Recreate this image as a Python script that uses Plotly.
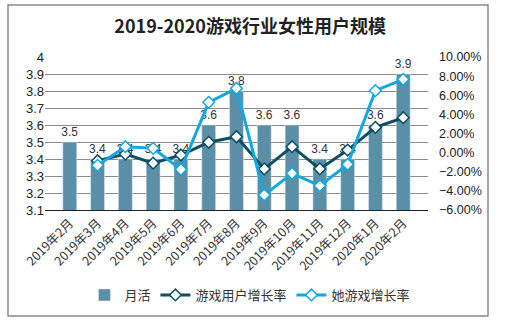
import plotly.graph_objects as go

months = ["2019年2月", "2019年3月", "2019年4月", "2019年5月", "2019年6月", "2019年7月",
          "2019年8月", "2019年9月", "2019年10月", "2019年11月", "2019年12月", "2020年1月", "2020年2月"]
mau = [3.5, 3.4, 3.4, 3.4, 3.4, 3.6, 3.8, 3.6, 3.6, 3.4, 3.4, 3.6, 3.9]
game_user_growth = [None, -0.0085, -0.0015, -0.011, -0.0025, 0.0108, 0.0166, -0.017, 0.0062,
                    -0.017, 0.0027, 0.0264, 0.0365]
her_game_growth = [None, -0.0133, 0.0062, 0.0045, -0.0175, 0.0526, 0.0672, -0.0443, -0.0217,
                   -0.0346, -0.0123, 0.0648, 0.0766]

FONT = "Liberation Sans, Noto Sans CJK SC, sans-serif"
CJK = "Noto Sans CJK SC, sans-serif"
BAR_C = "#5B8FA8"
DARK_C = "#0E4F66"
LIGHT_C = "#13A8E0"

fig = go.Figure()
fig.add_trace(go.Bar(
    x=months, y=mau, name="月活", marker_color=BAR_C, width=0.5,
    text=[f"{v:.1f}" for v in mau], textposition="outside", constraintext="none",
    textfont=dict(size=12, color="#333333", family=FONT), cliponaxis=False,
))
fig.add_trace(go.Scatter(
    x=months, y=game_user_growth, name="游戏用户增长率", yaxis="y2", mode="lines+markers",
    line=dict(color=DARK_C, width=3),
    marker=dict(symbol="diamond", size=9, color="white", line=dict(color=DARK_C, width=1.5)),
))
fig.add_trace(go.Scatter(
    x=months, y=her_game_growth, name="她游戏增长率", yaxis="y2", mode="lines+markers",
    line=dict(color=LIGHT_C, width=3),
    marker=dict(symbol="diamond", size=9, color="white", line=dict(color=LIGHT_C, width=1.5)),
))

fig.update_layout(
    width=521, height=323,
    margin=dict(l=45, r=93, t=57, b=113),
    paper_bgcolor="white", plot_bgcolor="white",
    font=dict(family=FONT, size=12, color="#333333"),
    title=dict(text="<b>2019-2020游戏行业女性用户规模</b>", x=0.48, xanchor="center",
               y=1 - 27 / 323, yanchor="middle",
               font=dict(size=18, color="#222222", family=CJK)),
    bargap=0.5,
    xaxis=dict(type="category", tickangle=-45, showgrid=False, showline=True,
               linecolor="#222222", linewidth=1, ticks="",
               tickfont=dict(size=12.5, family=CJK, color="#333333")),
    yaxis=dict(range=[3.1, 4.0], dtick=0.1, showgrid=True, gridcolor="#8c8c8c", gridwidth=1,
               zeroline=False, showline=False, tickfont=dict(size=13, color="#222222"),
               tickformat="~g"),
    yaxis2=dict(range=[-0.06, 0.10], dtick=0.02, overlaying="y", side="right",
                tickformat=".2%", showgrid=False, zeroline=False, showline=False,
                ticklabelstandoff=10,
                tickfont=dict(size=12.5, color="#222222")),
    legend=dict(orientation="h", x=0.535, xanchor="center", y=(210 - 295) / 153, yanchor="middle",
                font=dict(size=13, family=CJK, color="#333333"),
                bgcolor="rgba(0,0,0,0)"),
    showlegend=True,
    shapes=[dict(type="rect", xref="paper", yref="paper",
                 x0=(8 - 45) / 383, x1=(488 - 45) / 383,
                 y0=(210 - 316) / 153, y1=(210 - 5) / 153,
                 line=dict(color="#8a8a8a", width=1.5), fillcolor="rgba(0,0,0,0)", layer="below")],
)

fig.write_html("out.html")
